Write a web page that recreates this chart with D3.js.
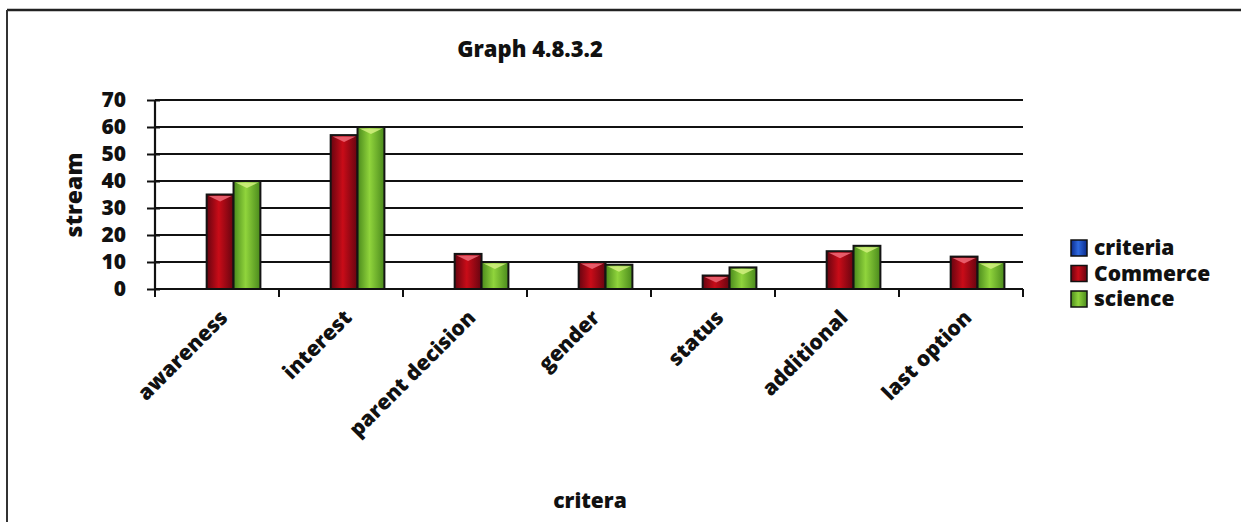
<!DOCTYPE html>
<html><head><meta charset="utf-8">
<script src="https://cdn.jsdelivr.net/npm/d3@7"></script>
<style>
html,body{margin:0;padding:0;background:#fff;}
svg{display:block;font-family:"Open Sans",Lato,sans-serif;font-weight:800;}
</style></head>
<body>
<svg id="chart" width="1241" height="522"></svg>
<script>
const categories = ["awareness","interest","parent decision","gender","status","additional","last option"];
const seriesNames = ["criteria","Commerce","science"];
const criteriaValues = [0,0,0,0,0,0,0];
const commerceValues = [35,57,13,10,5,14,12];
const scienceValues = [40,60,10,9,8,16,10];
const yTicks = [0,10,20,30,40,50,60,70];
const titleText = "Graph 4.8.3.2";
const yTitle = "stream";
const xTitle = "critera";

(function(){
const seriesValues = {criteria: criteriaValues, Commerce: commerceValues, science: scienceValues};
const colors = {
  criteria: {edge:"#0a2a8a", mid:"#2f6ae0", cap:"#6a9cff"},
  Commerce: {edge:"#660410", mid:"#c90c18", cap:"#f06a78"},
  science:  {edge:"#4a8a1c", mid:"#90d43c", cap:"#d2f080"}
};

const svg = d3.select("#chart");
const defs = svg.append("defs");
seriesNames.forEach(s => {
  const g = defs.append("linearGradient").attr("id","g-"+s).attr("x1","0%").attr("x2","100%").attr("y1","0%").attr("y2","0%");
  g.append("stop").attr("offset","0%").attr("stop-color",colors[s].edge);
  g.append("stop").attr("offset","45%").attr("stop-color",colors[s].mid);
  g.append("stop").attr("offset","100%").attr("stop-color",colors[s].edge);
});

// frame
svg.append("line").attr("x1",7).attr("x2",1241).attr("y1",10).attr("y2",10).attr("stroke","#222").attr("stroke-width",2.5);
svg.append("line").attr("x1",7).attr("x2",7).attr("y1",10).attr("y2",522).attr("stroke","#333").attr("stroke-width",2);

const pLeft = 155, pRight = 1023, pTop = 100, pBottom = 289;
const x0 = d3.scaleBand().domain(categories).range([pLeft, pRight]).padding(0);
const bw = x0.bandwidth();
const x1 = d3.scaleBand().domain(seriesNames).range([bw*0.2, bw*0.85]).padding(0);
const y = d3.scaleLinear().domain([0,70]).range([pBottom, pTop]);

// gridlines
svg.append("g").selectAll("line").data(yTicks.slice(1)).join("line")
  .attr("x1",pLeft).attr("x2",pRight).attr("y1",d=>y(d)).attr("y2",d=>y(d))
  .attr("stroke","#111").attr("stroke-width",2);

// bars
const groups = svg.append("g").selectAll("g").data(categories).join("g")
  .attr("transform", d => `translate(${x0(d)},0)`);
groups.each(function(cat, i){
  const g = d3.select(this);
  seriesNames.forEach(s => {
    const v = seriesValues[s][i];
    if (v <= 0) return;
    const bx = x1(s), w = x1.bandwidth();
    g.append("rect").attr("x",bx).attr("y",y(v)).attr("width",w).attr("height",y(0)-y(v))
      .attr("fill","url(#g-"+s+")").attr("stroke","#141414").attr("stroke-width",2);
    g.append("path")
      .attr("d",`M${bx+2},${y(v)+1.5} L${bx+w-2},${y(v)+1.5} L${bx+w/2},${y(v)+7} Z`)
      .attr("fill",colors[s].cap).attr("opacity",0.85);
  });
});

// y axis
const yAxis = d3.axisLeft(y).tickValues(yTicks).tickSize(8).tickPadding(21).tickFormat(d3.format("d"));
const ya = svg.append("g").attr("transform",`translate(${pLeft},0)`).call(yAxis);
ya.select(".domain").attr("stroke","#111").attr("stroke-width",2.2).attr("d",`M0,${pTop}V${pBottom}`);
ya.selectAll(".tick line").attr("stroke","#111").attr("stroke-width",2).attr("x1",5).attr("x2",-8);
ya.selectAll("text").attr("font-size",21).attr("font-family","Open Sans").attr("font-weight",800).attr("fill","#111");

// x axis
const xa = svg.append("g").attr("transform",`translate(0,${pBottom})`);
xa.append("line").attr("x1",pLeft).attr("x2",pRight).attr("y1",0).attr("y2",0).attr("stroke","#111").attr("stroke-width",2.2);
const bounds = categories.map(c => x0(c)).concat([pRight]);
xa.selectAll(".xt").data(bounds).join("line").attr("class","xt")
  .attr("x1",d=>d).attr("x2",d=>d).attr("y1",0).attr("y2",8).attr("stroke","#111").attr("stroke-width",2);
xa.selectAll(".xl").data(categories).join("text").attr("class","xl")
  .attr("transform", d => `translate(${x0(d)+bw/2+12},${30}) rotate(-45)`)
  .attr("text-anchor","end").attr("font-size",21).attr("fill","#111").text(d=>d);

// titles
svg.append("text").attr("x",530).attr("y",57).attr("text-anchor","middle").attr("font-size",22).attr("fill","#111").text(titleText);
svg.append("text").attr("transform","translate(82,195) rotate(-90)").attr("text-anchor","middle").attr("font-size",23).attr("fill","#111").text(yTitle);
svg.append("text").attr("x",590).attr("y",508).attr("text-anchor","middle").attr("font-size",21).attr("fill","#111").text(xTitle);

// legend
const lg = svg.append("g").selectAll("g").data(seriesNames).join("g")
  .attr("transform",(d,i)=>`translate(1071,${240+i*25.5})`);
lg.append("rect").attr("width",16).attr("height",16).attr("fill",d=>"url(#g-"+d+")").attr("stroke","#111").attr("stroke-width",1.5);
lg.append("text").attr("x",23).attr("y",15).attr("font-size",21).attr("fill","#111").text(d=>d);
})();
</script>
</body></html>
